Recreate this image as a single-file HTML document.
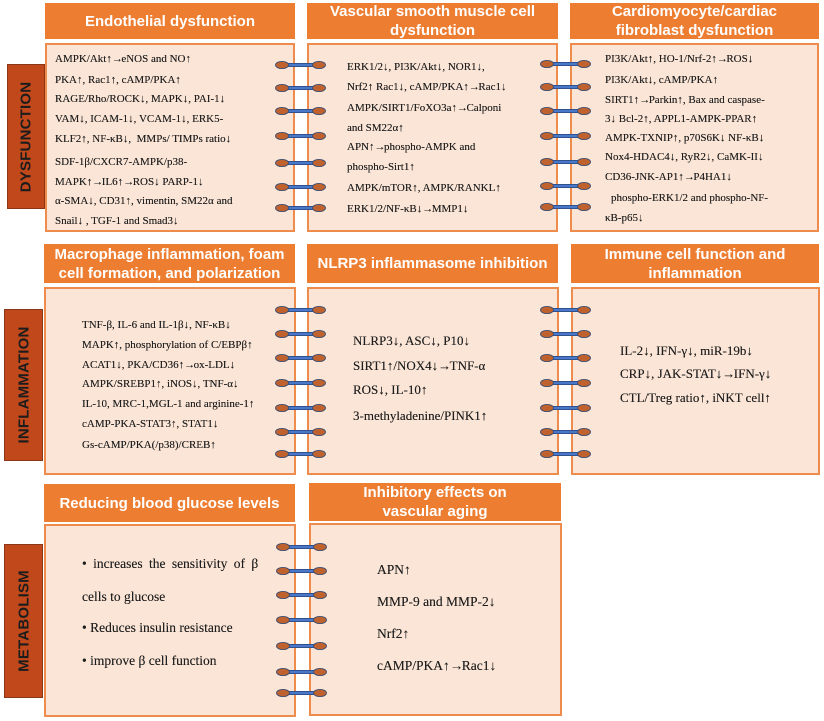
<!DOCTYPE html>
<html><head><meta charset="utf-8">
<style>
html,body{margin:0;padding:0;background:#fff;}
body{width:824px;height:721px;position:relative;overflow:hidden;}
.h{position:absolute;background:#ED7D31;color:#fff;font-family:"Liberation Sans",Arial,sans-serif;font-weight:bold;font-size:15px;line-height:19px;display:flex;align-items:center;justify-content:center;text-align:center;}
.c{position:absolute;background:#FBE5D6;border:2px solid #EE8C4E;box-sizing:border-box;}
.lab{position:absolute;background:#C1481B;border:1px solid #8A3617;box-sizing:border-box;}
.lab span{position:absolute;left:50%;top:50%;transform:translate(-50%,-50%) rotate(-90deg);font-family:"Liberation Sans",Arial,sans-serif;font-weight:bold;font-size:15px;color:#1c1c1c;white-space:nowrap;letter-spacing:0.2px;}
.t{position:absolute;font-family:"Liberation Serif","Times New Roman",serif;font-size:11px;line-height:14px;color:#1e1e1e;white-space:nowrap;text-shadow:0 0 0.3px #333;}
.m{font-size:13px;line-height:16px;}
.b{font-size:13.5px;line-height:16px;}
.r{letter-spacing:-1.5px;}
svg{position:absolute;left:0;top:0;}
</style></head><body>

<!-- Row 1 -->
<div class="h" style="left:45px;top:3px;width:250px;height:36px;">Endothelial dysfunction</div>
<div class="c" style="left:45px;top:43px;width:250px;height:189px;"></div>
<div class="h" style="left:307px;top:3px;width:251px;height:36px;">Vascular smooth muscle cell<br>dysfunction</div>
<div class="c" style="left:307px;top:43px;width:251px;height:189px;"></div>
<div class="h" style="left:570px;top:3px;width:249px;height:36px;">Cardiomyocyte/cardiac<br>fibroblast dysfunction</div>
<div class="c" style="left:570px;top:43px;width:249px;height:189px;"></div>

<!-- Row 2 -->
<div class="h" style="left:44px;top:244px;width:251px;height:39px;">Macrophage inflammation, foam<br>cell formation, and polarization</div>
<div class="c" style="left:44px;top:287px;width:252px;height:188px;"></div>
<div class="h" style="left:307px;top:244px;width:251px;height:39px;">NLRP3 inflammasome inhibition</div>
<div class="c" style="left:307px;top:287px;width:252px;height:188px;"></div>
<div class="h" style="left:571px;top:244px;width:248px;height:39px;">Immune cell function and<br>inflammation</div>
<div class="c" style="left:571px;top:287px;width:249px;height:188px;"></div>

<!-- Row 3 -->
<div class="h" style="left:44px;top:484px;width:251px;height:38px;">Reducing blood glucose levels</div>
<div class="c" style="left:44px;top:524px;width:252px;height:193px;"></div>
<div class="h" style="left:309px;top:483px;width:252px;height:38px;">Inhibitory effects on<br>vascular aging</div>
<div class="c" style="left:309px;top:523px;width:253px;height:193px;"></div>

<!-- Labels -->
<div class="lab" style="left:7px;top:64px;width:38px;height:145px;"><span>DYSFUNCTION</span></div>
<div class="lab" style="left:4px;top:309px;width:39px;height:152px;"><span>INFLAMMATION</span></div>
<div class="lab" style="left:4px;top:544px;width:39px;height:154px;"><span>METABOLISM</span></div>

<!-- Row1 col1 text -->
<div class="t" style="left:55px;top:52px;">AMPK/Akt↑<span class="r">→</span>eNOS and NO↑</div>
<div class="t" style="left:55px;top:73px;">PKA↑, Rac1↑, cAMP/PKA↑</div>
<div class="t" style="left:55px;top:92px;">RAGE/Rho/ROCK↓, MAPK↓, PAI-1↓</div>
<div class="t" style="left:55px;top:112px;">VAM↓, ICAM-1↓, VCAM-1↓, ERK5-</div>
<div class="t" style="left:55px;top:132px;">KLF2↑, NF-κB↓,&nbsp; MMPs/ TIMPs ratio↓</div>
<div class="t" style="left:55px;top:155px;">SDF-1β/CXCR7-AMPK/p38-</div>
<div class="t" style="left:55px;top:175px;">MAPK↑<span class="r">→</span>IL6↑<span class="r">→</span>ROS↓ PARP-1↓</div>
<div class="t" style="left:55px;top:194px;">α-SMA↓, CD31↑, vimentin, SM22α and</div>
<div class="t" style="left:55px;top:214px;">Snail↓ , TGF-1 and Smad3↓</div>

<!-- Row1 col2 text -->
<div class="t" style="left:347px;top:60px;">ERK1/2↓, PI3K/Akt↓, NOR1↓,</div>
<div class="t" style="left:347px;top:80px;">Nrf2↑ Rac1↓, cAMP/PKA↑<span class="r">→</span>Rac1↓</div>
<div class="t" style="left:347px;top:101px;">AMPK/SIRT1/FoXO3a↑<span class="r">→</span>Calponi</div>
<div class="t" style="left:347px;top:121px;">and SM22α↑</div>
<div class="t" style="left:347px;top:140px;">APN↑<span class="r">→</span>phospho-AMPK and</div>
<div class="t" style="left:347px;top:160px;">phospho-Sirt1↑</div>
<div class="t" style="left:347px;top:181px;">AMPK/mTOR↑, AMPK/RANKL↑</div>
<div class="t" style="left:347px;top:202px;">ERK1/2/NF-κB↓<span class="r">→</span>MMP1↓</div>

<!-- Row1 col3 text -->
<div class="t" style="left:605px;top:52px;">PI3K/Akt↑, HO-1/Nrf-2↑<span class="r">→</span>ROS↓</div>
<div class="t" style="left:605px;top:73px;">PI3K/Akt↓, cAMP/PKA↑</div>
<div class="t" style="left:605px;top:93px;">SIRT1↑<span class="r">→</span>Parkin↑, Bax and caspase-</div>
<div class="t" style="left:605px;top:112px;">3↓ Bcl-2↑, APPL1-AMPK-PPAR↑</div>
<div class="t" style="left:605px;top:131px;">AMPK-TXNIP↑, p70S6K↓ NF-κB↓</div>
<div class="t" style="left:605px;top:150px;">Nox4-HDAC4↓, RyR2↓, CaMK-II↓</div>
<div class="t" style="left:605px;top:170px;">CD36-JNK-AP1↑<span class="r">→</span>P4HA1↓</div>
<div class="t" style="left:611px;top:191px;">phospho-ERK1/2 and phospho-NF-</div>
<div class="t" style="left:605px;top:211px;">κB-p65↓</div>

<!-- Row2 col1 text -->
<div class="t" style="left:82px;top:318px;">TNF-β, IL-6 and IL-1β↓, NF-κB↓</div>
<div class="t" style="left:82px;top:338px;">MAPK↑, phosphorylation of C/EBPβ↑</div>
<div class="t" style="left:82px;top:358px;">ACAT1↓, PKA/CD36↑<span class="r">→</span>ox-LDL↓</div>
<div class="t" style="left:82px;top:377px;">AMPK/SREBP1↑, iNOS↓, TNF-α↓</div>
<div class="t" style="left:82px;top:397px;">IL-10, MRC-1,MGL-1 and arginine-1↑</div>
<div class="t" style="left:82px;top:417px;">cAMP-PKA-STAT3↑, STAT1↓</div>
<div class="t" style="left:82px;top:438px;">Gs-cAMP/PKA(/p38)/CREB↑</div>

<!-- Row2 col2 text -->
<div class="t m" style="left:353px;top:333px;">NLRP3↓, ASC↓, P10↓</div>
<div class="t m" style="left:353px;top:358px;">SIRT1↑/NOX4↓<span class="r">→</span>TNF-α</div>
<div class="t m" style="left:353px;top:382px;">ROS↓, IL-10↑</div>
<div class="t m" style="left:353px;top:408px;">3-methyladenine/PINK1↑</div>

<!-- Row2 col3 text -->
<div class="t m" style="left:620px;top:343px;">IL-2↓, IFN-γ↓, miR-19b↓</div>
<div class="t m" style="left:620px;top:366px;">CRP↓, JAK-STAT↓<span class="r">→</span>IFN-γ↓</div>
<div class="t m" style="left:620px;top:390px;">CTL/Treg ratio↑, iNKT cell↑</div>

<!-- Row3 col1 text -->
<div class="t b" style="left:82px;top:556px;word-spacing:3px;">• increases the sensitivity of β</div>
<div class="t b" style="left:82px;top:589px;">cells to glucose</div>
<div class="t b" style="left:82px;top:620px;">• Reduces insulin resistance</div>
<div class="t b" style="left:82px;top:653px;">• improve β cell function</div>

<!-- Row3 col2 text -->
<div class="t b" style="left:377px;top:562px;">APN↑</div>
<div class="t b" style="left:377px;top:594px;">MMP-9 and MMP-2↓</div>
<div class="t b" style="left:377px;top:626px;">Nrf2↑</div>
<div class="t b" style="left:377px;top:658px;">cAMP/PKA↑<span class="r">→</span>Rac1↓</div>

<svg width="824" height="721" viewBox="0 0 824 721">
<defs>
<g id="coil">
<line x1="0" y1="0" x2="37" y2="0" stroke="#2E4A86" stroke-width="4"/>
<line x1="0" y1="0" x2="37" y2="0" stroke="#4A78C8" stroke-width="2.2"/>
<ellipse cx="0" cy="0" rx="6.5" ry="3.6" fill="#C0622E" stroke="#3F4F70" stroke-width="0.9"/>
<ellipse cx="37" cy="0" rx="6.5" ry="3.6" fill="#C0622E" stroke="#3F4F70" stroke-width="0.9"/>
</g>
</defs>
<!-- row1 col1-2 -->
<use href="#coil" x="282" y="65"/><use href="#coil" x="282" y="88"/><use href="#coil" x="282" y="111"/><use href="#coil" x="282" y="136"/><use href="#coil" x="282" y="163"/><use href="#coil" x="282" y="187"/><use href="#coil" x="282" y="208"/>
<!-- row1 col2-3 -->
<use href="#coil" x="547" y="64"/><use href="#coil" x="547" y="87"/><use href="#coil" x="547" y="111"/><use href="#coil" x="547" y="136"/><use href="#coil" x="547" y="162"/><use href="#coil" x="547" y="186"/><use href="#coil" x="547" y="207"/>
<!-- row2 col1-2 -->
<use href="#coil" x="282" y="310"/><use href="#coil" x="282" y="334"/><use href="#coil" x="282" y="358"/><use href="#coil" x="282" y="383"/><use href="#coil" x="282" y="408"/><use href="#coil" x="282" y="432"/><use href="#coil" x="282" y="454"/>
<!-- row2 col2-3 -->
<use href="#coil" x="547" y="310"/><use href="#coil" x="547" y="334"/><use href="#coil" x="547" y="358"/><use href="#coil" x="547" y="383"/><use href="#coil" x="547" y="408"/><use href="#coil" x="547" y="432"/><use href="#coil" x="547" y="454"/>
<!-- row3 col1-2 -->
<use href="#coil" x="283" y="547"/><use href="#coil" x="283" y="571"/><use href="#coil" x="283" y="595"/><use href="#coil" x="283" y="620"/><use href="#coil" x="283" y="646"/><use href="#coil" x="283" y="672"/><use href="#coil" x="283" y="693"/>
</svg>
</body></html>
